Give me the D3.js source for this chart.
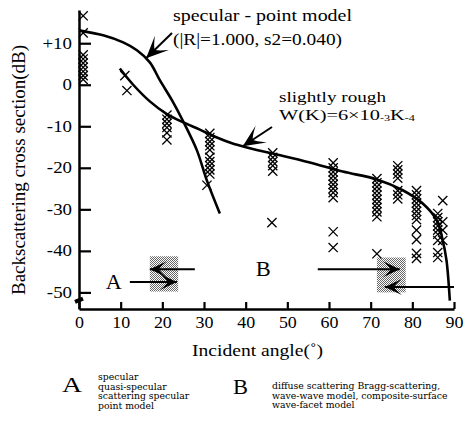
<!DOCTYPE html>
<html>
<head>
<meta charset="utf-8">
<script src="https://cdn.jsdelivr.net/npm/d3@7"></script>
<style>
  body { margin: 0; background: #fff; }
  svg { display: block; }
</style>
</head>
<body>
<div id="chart"></div>
<script>
// axis ticks
const angleTicks = [0, 10, 20, 30, 40, 50, 60, 70, 80, 90];
const dbTicks = [10, 0, -10, -20, -30, -40, -50];

// model curves (incident angle, dB)
const specularAngle = [0, 5.8, 10.6, 13.9, 17, 19.4, 22.3, 24.9, 28.3, 30.7, 33.8];
const specularDb = [13.1, 11.9, 10.2, 8.3, 5.4, 1.1, -3.7, -8.6, -15.8, -23.1, -31];
const roughAngle = [9.8, 13, 17, 21, 24.9, 29, 33.1, 36.2, 41, 48, 55.4, 63.3, 71.5, 77.7, 82.5, 85.9, 87.3, 88.2, 89];
const roughDb = [3.9, 0, -4, -7, -9, -10.8, -12.7, -13.9, -15.3, -16.9, -18.7, -20.9, -22.8, -25.4, -28.6, -32.7, -37.5, -42.3, -52];

// measured points, one column per angle
const obsAngle = [1, 11, 11.5, 21.1, 31.4, 30.7, 46.5, 46.3, 61, 71.5, 76.5, 81, 86.1, 87.3];
const obsDb = [
  [16.6, 12.5, 7.2, 6.2, 5.2, 4.2, 3.2, 2.2, 1.3],
  [2.2],
  [-1.4],
  [-7.3, -8.3, -9.3, -10.3, -11.6, -13.3],
  [-11.7, -12.7, -13.7, -14.7, -15.7, -17.5, -18.5, -19.5, -20.5, -21.5],
  [-24.2],
  [-16.4, -17.5, -18.5, -19.5, -20.8],
  [-33.2],
  [-18.8, -20, -21, -22, -23, -24, -25, -26, -27.2, -35.4, -39.2],
  [-22.6, -23.6, -24.6, -25.6, -26.6, -27.6, -28.6, -29.6, -30.6, -31.8, -40.7],
  [-19.5, -20.5, -21.5, -22.5, -25.5, -26.5, -27.5],
  [-25.5, -26.5, -27.5, -28.5, -29.5, -30.5, -31.5, -32.5, -35, -37.3, -40.6, -41.8],
  [-31, -32, -33, -34, -35, -36, -37.5, -40.4, -41.6],
  [-27.9, -33, -35, -37.5]
];

// regime boxes and arrows (A, B)
const boxAngle = [[17, 23.8], [71.5, 78.4]];
const boxDb = [[-41.3, -49.8], [-41.6, -50]];
const arrowAngle = [[12.2, 23.5], [27.8, 17], [57.3, 77], [90, 73.4]];
const arrowDb = [-47.5, -44.4, -44.4, -48.7];

// legend texts
const legA = ['specular', 'quasi-specular', 'scattering specular', 'point model'];
const legB = ['diffuse scattering Bragg-scattering,', 'wave-wave model, composite-surface', 'wave-facet model'];

const width = 466, height = 424;
const serif = 'Liberation Serif, Times New Roman, serif';
const small = 'DejaVu Serif, serif';

const x = d3.scaleLinear().domain([0, 90]).range([79, 454]);
const y = d3.scaleLinear().domain([-54, 18]).range([309, 10]);

const svg = d3.select('#chart').append('svg')
    .attr('width', width)
    .attr('height', height);

const defs = svg.append('defs');
const pat = defs.append('pattern')
    .attr('id', 'stipple')
    .attr('width', 2).attr('height', 2)
    .attr('patternUnits', 'userSpaceOnUse');
pat.append('rect').attr('width', 2).attr('height', 2).attr('fill', '#fff');
pat.append('rect').attr('width', 1).attr('height', 1).attr('fill', '#666');
pat.append('rect').attr('x', 1).attr('y', 1).attr('width', 1).attr('height', 1).attr('fill', '#666');

const addHead = (id, len, half) => {
    defs.append('marker')
        .attr('id', id)
        .attr('markerUnits', 'userSpaceOnUse')
        .attr('viewBox', `${-len - 1} ${-half - 1} ${len + 2} ${half * 2 + 2}`)
        .attr('markerWidth', len + 2).attr('markerHeight', half * 2 + 2)
        .attr('refX', 0).attr('refY', 0)
        .attr('orient', 'auto')
      .append('path')
        .attr('d', `M0,0 L${-len},${-half} Q${-len * 0.6},${-half * 0.3} ${-len * 0.55},0 Q${-len * 0.6},${half * 0.3} ${-len},${half} Z`)
        .attr('fill', '#000');
};
addHead('bigHead', 22, 10);
addHead('smallHead', 17, 8);

// stretch text horizontally to a target width
const fit = (sel, w) => sel.attr('textLength', w).attr('lengthAdjust', 'spacingAndGlyphs');
const widen = (sel, k) => sel.each(function() {
    const w = this.getComputedTextLength();
    d3.select(this).attr('textLength', w * k).attr('lengthAdjust', 'spacingAndGlyphs');
});

// axes
const yAxis = svg.append('g')
    .attr('transform', `translate(${x(0)},0)`)
    .call(d3.axisLeft(y).tickValues(dbTicks)
        .tickSizeInner(-12).tickSizeOuter(0).tickPadding(7)
        .tickFormat(d => d > 0 ? '+' + d : d));
const xAxis = svg.append('g')
    .attr('transform', `translate(0,${y(-54)})`)
    .call(d3.axisBottom(x).tickValues(angleTicks)
        .tickSizeInner(-7).tickSizeOuter(0).tickPadding(8));

[yAxis, xAxis].forEach(g => {
    g.attr('font-family', serif).attr('font-size', 16);
    g.select('.domain').attr('stroke-width', 2.5);
    g.selectAll('.tick line').attr('stroke-width', 2.2);
    g.selectAll('.tick text')
        .attr('font-family', serif)
        .attr('font-size', 16)
        .attr('fill', '#000');
});
widen(yAxis.selectAll('.tick text'), 1.18);
widen(xAxis.selectAll('.tick text'), 1.12);

// axis break mark
svg.append('line')
    .attr('x1', x(0) - 4).attr('y1', y(-52.3))
    .attr('x2', x(0) + 4).attr('y2', y(-51.5))
    .attr('stroke', '#000').attr('stroke-width', 4);

// axis titles
fit(svg.append('text')
    .attr('x', 192).attr('y', 356)
    .attr('font-family', serif).attr('font-size', 17)
    .text('Incident angle(˚)'), 131);

svg.append('text')
    .attr('transform', 'translate(25,170) rotate(-90)')
    .attr('text-anchor', 'middle')
    .attr('font-family', serif).attr('font-size', 19)
    .text('Backscattering cross section(dB)');

// stippled regime boxes
svg.selectAll('.box')
    .data(boxAngle)
    .join('rect')
        .attr('class', 'box')
        .attr('x', d => x(d[0]))
        .attr('width', d => x(d[1]) - x(d[0]))
        .attr('y', (d, i) => y(boxDb[i][0]))
        .attr('height', (d, i) => y(boxDb[i][1]) - y(boxDb[i][0]))
        .attr('fill', 'url(#stipple)');

// observations
const points = obsAngle.flatMap((a, i) => obsDb[i].map(v => [a, v]));
const s = 4.6;
svg.selectAll('.obs')
    .data(points)
    .join('path')
        .attr('class', 'obs')
        .attr('d', d => {
            const cx = x(d[0]), cy = y(d[1]);
            return `M${cx - s},${cy - s}L${cx + s},${cy + s}M${cx - s},${cy + s}L${cx + s},${cy - s}`;
        })
        .attr('stroke', '#000')
        .attr('stroke-width', 1.3)
        .attr('fill', 'none');

// model curves
const line = d3.line().x(d => x(d[0])).y(d => y(d[1])).curve(d3.curveCatmullRom.alpha(0.5));
svg.append('path')
    .datum(specularAngle.map((a, i) => [a, specularDb[i]]))
    .attr('d', line)
    .attr('fill', 'none').attr('stroke', '#000').attr('stroke-width', 2.6);
svg.append('path')
    .datum(roughAngle.map((a, i) => [a, roughDb[i]]))
    .attr('d', line)
    .attr('fill', 'none').attr('stroke', '#000').attr('stroke-width', 2.6);

// A / B arrows
svg.selectAll('.regArrow')
    .data(arrowAngle)
    .join('line')
        .attr('class', 'regArrow')
        .attr('x1', d => x(d[0])).attr('x2', d => x(d[1]))
        .attr('y1', (d, i) => y(arrowDb[i])).attr('y2', (d, i) => y(arrowDb[i]))
        .attr('stroke', '#000').attr('stroke-width', 2)
        .attr('marker-end', 'url(#smallHead)');

fit(svg.append('text')
    .attr('x', x(6.4)).attr('y', y(-49.3))
    .attr('font-family', serif).attr('font-size', 21)
    .text('A'), 16);
fit(svg.append('text')
    .attr('x', x(42.4)).attr('y', y(-46))
    .attr('font-family', serif).attr('font-size', 21)
    .text('B'), 15);

// curve annotations
svg.append('line')
    .attr('x1', 172).attr('y1', 33)
    .attr('x2', x(16.1)).attr('y2', y(6.4))
    .attr('stroke', '#000').attr('stroke-width', 2)
    .attr('marker-end', 'url(#bigHead)');
svg.append('line')
    .attr('x1', 272).attr('y1', 127)
    .attr('x2', x(39.3)).attr('y2', y(-14.8))
    .attr('stroke', '#000').attr('stroke-width', 2)
    .attr('marker-end', 'url(#bigHead)');

fit(svg.append('text')
    .attr('x', 173).attr('y', 21)
    .attr('font-family', serif).attr('font-size', 17)
    .text('specular - point  model'), 179);
fit(svg.append('text')
    .attr('x', 173).attr('y', 45)
    .attr('font-family', serif).attr('font-size', 17)
    .text('(|R|=1.000, s2=0.040)'), 169);
fit(svg.append('text')
    .attr('x', 279).attr('y', 101.5)
    .attr('font-family', serif).attr('font-size', 15)
    .text('slightly rough'), 107);

const wk = svg.append('text')
    .attr('x', 279).attr('y', 120)
    .attr('font-family', serif).attr('font-size', 15);
wk.append('tspan').text('W(K)=6×10');
wk.append('tspan').attr('font-size', 9).attr('dy', 1).text('-3');
wk.append('tspan').attr('dy', -1).text('K');
wk.append('tspan').attr('font-size', 9).attr('dy', 1).text('-4');
fit(wk, 136);

// legend below the chart
fit(svg.append('text').attr('x', 62).attr('y', 392)
    .attr('font-family', serif).attr('font-size', 21).text('A'), 20);
fit(svg.append('text').attr('x', 233).attr('y', 394)
    .attr('font-family', serif).attr('font-size', 21).text('B'), 15);

svg.selectAll('.legA')
    .data(legA)
    .join('text')
        .attr('class', 'legA')
        .attr('x', 98).attr('y', (d, i) => 380 + i * 9.5)
        .attr('font-family', small).attr('font-size', 8.3)
        .text(d => d);
svg.selectAll('.legB')
    .data(legB)
    .join('text')
        .attr('class', 'legB')
        .attr('x', 272).attr('y', (d, i) => 389 + i * 9.5)
        .attr('font-family', small).attr('font-size', 8.3)
        .text(d => d);
widen(svg.selectAll('.legA, .legB'), 1.12);
</script>
</body>
</html>
